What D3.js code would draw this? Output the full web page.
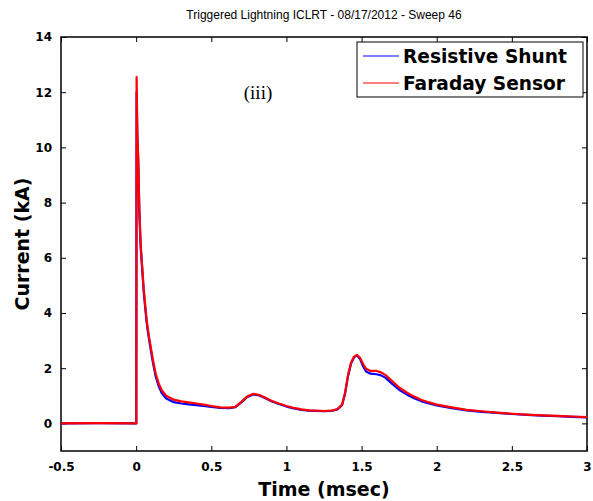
<!DOCTYPE html>
<html><head><meta charset="utf-8">
<script src="https://cdn.jsdelivr.net/npm/d3@7"></script>
<style>body{margin:0;background:#fff;} svg{display:block;}</style>
</head><body>
<script>
const titleText = "Triggered Lightning ICLRT - 08/17/2012 - Sweep 46";
const xTicks = [-0.5, 0, 0.5, 1, 1.5, 2, 2.5, 3];
const yTicks = [0, 2, 4, 6, 8, 10, 12, 14];
const seriesNames = ["Resistive Shunt", "Faraday Sensor"];
const seriesColors = ["#0000ff", "#ff0000"];
const time = [-0.5, -0.25, -0.001, 0.001, 0.003, 0.008, 0.014, 0.021, 0.03, 0.04, 0.05, 0.06, 0.07, 0.08, 0.09, 0.11, 0.13, 0.15, 0.17, 0.2, 0.25, 0.3, 0.35, 0.4, 0.45, 0.5, 0.56, 0.62, 0.66, 0.7, 0.74, 0.78, 0.82, 0.86, 0.9, 0.95, 1.0, 1.05, 1.1, 1.15, 1.2, 1.25, 1.3, 1.34, 1.37, 1.39, 1.41, 1.43, 1.45, 1.47, 1.49, 1.51, 1.53, 1.56, 1.6, 1.63, 1.66, 1.7, 1.75, 1.8, 1.85, 1.9, 1.95, 2.0, 2.1, 2.2, 2.3, 2.4, 2.5, 2.6, 2.7, 2.8, 2.9, 3.0];
const faraday = [0, 0.01, 0, 0, 12.55, 10.5, 9.6, 7.8, 6.5, 5.7, 4.9, 4.3, 3.75, 3.35, 3.0, 2.35, 1.8, 1.45, 1.2, 1.0, 0.86, 0.8, 0.76, 0.72, 0.68, 0.63, 0.58, 0.57, 0.6, 0.78, 0.98, 1.07, 1.03, 0.93, 0.82, 0.72, 0.63, 0.56, 0.51, 0.47, 0.46, 0.45, 0.46, 0.52, 0.68, 1.1, 1.75, 2.2, 2.42, 2.48, 2.38, 2.15, 1.98, 1.9, 1.9, 1.85, 1.75, 1.55, 1.3, 1.12, 0.97, 0.85, 0.76, 0.68, 0.58, 0.49, 0.44, 0.39, 0.35, 0.32, 0.29, 0.27, 0.25, 0.23];
const shunt = [0, 0.01, 0, 0, 12.0, 10.3, 9.5, 7.7, 6.4, 5.6, 4.8, 4.2, 3.65, 3.25, 2.9, 2.25, 1.7, 1.35, 1.1, 0.9, 0.77, 0.72, 0.69, 0.66, 0.63, 0.6, 0.56, 0.55, 0.59, 0.76, 0.96, 1.05, 1.01, 0.91, 0.8, 0.7, 0.61, 0.54, 0.49, 0.46, 0.45, 0.44, 0.45, 0.51, 0.66, 1.07, 1.72, 2.17, 2.4, 2.46, 2.33, 2.07, 1.88, 1.8, 1.78, 1.74, 1.65, 1.45, 1.22, 1.05, 0.91, 0.8, 0.72, 0.65, 0.55, 0.47, 0.42, 0.38, 0.34, 0.31, 0.28, 0.26, 0.24, 0.22];

const W = 593, H = 501;
const m = {left: 61, right: 587, top: 37, bottom: 451};
const svg = d3.select("body").append("svg").attr("width", W).attr("height", H);

const x = d3.scaleLinear().domain([-0.5, 3]).range([m.left, m.right]);
const y = d3.scaleLinear().domain([-1, 14]).range([m.bottom, m.top]);

svg.append("defs").append("clipPath").attr("id", "clip")
  .append("rect").attr("x", m.left).attr("y", m.top).attr("width", m.right - m.left).attr("height", m.bottom - m.top);

const tickFont = "bold 12px 'DejaVu Sans', sans-serif";

const gx = svg.append("g").attr("transform", `translate(0,${m.bottom})`)
  .call(d3.axisBottom(x).tickValues(xTicks).tickSize(-5).tickPadding(11).tickFormat(d => String(d)));
const gxt = svg.append("g").attr("transform", `translate(0,${m.top})`)
  .call(d3.axisTop(x).tickValues(xTicks).tickSize(-5).tickFormat(""));
const gy = svg.append("g").attr("transform", `translate(${m.left},0)`)
  .call(d3.axisLeft(y).tickValues(yTicks).tickSize(-5).tickPadding(9).tickFormat(d => String(d)));
const gyr = svg.append("g").attr("transform", `translate(${m.right},0)`)
  .call(d3.axisRight(y).tickValues(yTicks).tickSize(-5).tickFormat(""));
[gx, gxt, gy, gyr].forEach(g => {
  g.select(".domain").remove();
  g.selectAll(".tick line").attr("stroke", "#000").attr("stroke-width", 1);
  g.selectAll(".tick text").style("font", tickFont).attr("fill", "#000");
});

svg.append("rect").attr("x", m.left).attr("y", m.top).attr("width", m.right - m.left).attr("height", m.bottom - m.top)
  .attr("fill", "none").attr("stroke", "#000").attr("stroke-width", 1.5);

const line = d3.line().x((d, i) => x(time[i])).y(d => y(d));
const pg = svg.append("g").attr("clip-path", "url(#clip)");
[shunt, faraday].forEach((s, k) => {
  pg.append("path").attr("d", line(s)).attr("fill", "none")
    .attr("stroke", seriesColors[k]).attr("stroke-width", 2.2).attr("stroke-linejoin", "round");
});

svg.append("text").attr("x", (m.left + m.right) / 2).attr("y", 19).attr("text-anchor", "middle")
  .style("font", "12px 'Liberation Sans', Arial, sans-serif").text(titleText);

svg.append("text").attr("x", (m.left + m.right) / 2).attr("y", 496).attr("text-anchor", "middle")
  .style("font", "bold 19px 'DejaVu Sans', sans-serif").text("Time (msec)");
svg.append("text").attr("transform", `translate(29,${(m.top + m.bottom) / 2}) rotate(-90)`).attr("text-anchor", "middle")
  .style("font", "bold 19px 'DejaVu Sans', sans-serif").text("Current (kA)");

svg.append("text").attr("x", 258).attr("y", 99).attr("text-anchor", "middle")
  .style("font", "19px 'Liberation Serif', 'Times New Roman', serif").text("(iii)");

const lg = svg.append("g");
lg.append("rect").attr("x", 357).attr("y", 42).attr("width", 226).attr("height", 55)
  .attr("fill", "#fff").attr("stroke", "#000").attr("stroke-width", 1);
seriesNames.forEach((n, i) => {
  const yy = 56 + i * 27;
  lg.append("line").attr("x1", 363).attr("x2", 399).attr("y1", yy).attr("y2", yy)
    .attr("stroke", seriesColors[i]).attr("stroke-width", 1);
  lg.append("text").attr("x", 403).attr("y", yy + 7)
    .style("font", "bold 18.6px 'DejaVu Sans', sans-serif").text(n);
});
</script>
</body></html>
